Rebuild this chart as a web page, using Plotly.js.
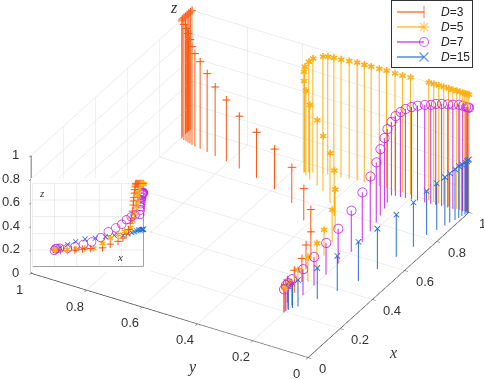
<!DOCTYPE html>
<html><head><meta charset="utf-8">
<script src="https://cdn.plot.ly/plotly-3.0.1.min.js"></script>
<style>html,body{margin:0;padding:0;background:#fff}#c{width:484px;height:379px}</style></head>
<body><div id="c"></div>
<script>
const seriesNames=['<i>D</i>=3','<i>D</i>=5','<i>D</i>=7','<i>D</i>=15'];
const seriesColors=['#ff5a14','#ffb014','#c828ee','#2a6fd2'];
const tickValues=[0,0.2,0.4,0.6,0.8,1];
const tickLabels=['0','0.2','0.4','0.6','0.8','1'];
const d3x=[.2,.205,.21,.22,.25,.31,.38,.45,.52,.63,.70,.77,.814,.845,.865,.883,.893,.90,.906,.91,.914,.917,.92,.923,.926,.93,.94,.95,.96,.97,.98,.99,1];
const d3y=[.2,.202,.205,.21,.22,.23,.243,.269,.292,.356,.422,.506,.594,.677,.751,.808,.854,.887,.916,.937,.95,.959,.968,.977,.986,.996,1,1,1,1,1,1,1];
const d3z=[.2,.2,.2,.2,.195,.195,.2,.209,.218,.226,.27,.304,.342,.387,.446,.521,.586,.667,.74,.789,.834,.884,.925,.958,.982,1,1,1,1,1,1,1,1];
const d5x=[.2,.205,.215,.24,.31,.39,.47,.55,.63,.70,.77,.83,.88,.90,.92,.935,.945,.95,.95,.955,.96,.97,.975,.978,.98,.985,.99,.99,.993,.995,.997,1,1,1,1,1,1,1,1,1,1,1,1,1,1,1];
const d5y=[.2,.202,.205,.21,.217,.227,.241,.262,.279,.309,.353,.403,.457,.49,.528,.551,.564,.567,.564,.552,.54,.51,.495,.475,.45,.424,.398,.372,.349,.321,.296,.267,.24,.211,.145,.127,.109,.091,.073,.058,.044,.033,.022,.015,.007,0];
const d5z=[.2,.2,.2,.205,.207,.211,.22,.22,.279,.344,.388,.424,.47,.556,.634,.72,.78,.85,.895,.94,.97,.995,1,1,1,1,1,1,.997,.997,.996,.99,.99,.995,1,1,1,1,1,1,1,1,1,1,1,1];
const d7x=[.194,.206,.219,.244,.313,.381,.456,.531,.613,.681,.748,.803,.845,.8875,.923,.966,.97,.972,.975,.977,.98,.982,.985,.987,.989,.991,.993,.996,.998,.999,1,1];
const d7y=[.2,.2,.2,.2,.2,.2,.2,.2,.2,.2,.21,.22,.23,.24,.25,.26,.248,.231,.215,.194,.174,.149,.129,.112,.092,.071,.054,.034,.021,.01,.004,0];
const d7z=[.197,.218,.22,.222,.222,.242,.269,.297,.35,.42,.466,.511,.564,.599,.624,.626,.678,.722,.756,.785,.807,.829,.84,.858,.87,.878,.885,.895,.893,.89,.89,.889];
const d15x=[.206,.215,.23,.247,.315,.388,.473,.565,.657,.736,.816,.86,.895,.917,.939,.956,.97,.983,.991,.996,1];
const d15y=[.205,.196,.19,.18,.15,.12,.093,.078,.063,.047,.046,.035,.026,.021,.015,.011,.008,.004,.002,.001,0];
const d15z=[.197,.2,.21,.226,.265,.30,.333,.342,.359,.376,.375,.395,.41,.42,.432,.44,.44,.445,.445,.45,.45];
const xs=[d3x,d5x,d7x,d15x],ys=[d3y,d5y,d7y,d15y],zs=[d3z,d5z,d7z,d15z];
const glyphs=['+','✱','○','×'];
const glyphSizes=[13,10,13,11];
const legendSymbols=['line-ns-open','asterisk-open','circle-open','x-thin-open'];
const legendRows=[11,26,41,56];
function stems(xa,ya,za){const X=[],Y=[],Z=[];xa.forEach((v,i)=>{X.push(v,v,null);Y.push(ya[i],ya[i],null);Z.push(0,za[i],null);});return {x:X,y:Y,z:Z};}
const traces=[];
xs.forEach((xa,k)=>{
  const s=stems(xa,ys[k],zs[k]);
  traces.push({type:'scatter3d',mode:'lines',x:s.x,y:s.y,z:s.z,line:{color:seriesColors[k],width:2},showlegend:false,hoverinfo:'skip',scene:'scene'});
  traces.push({type:'scatter3d',mode:'text',x:xa,y:ys[k],z:zs[k],text:xa.map(()=>glyphs[k]),textposition:'middle center',textfont:{color:seriesColors[k],size:glyphSizes[k],family:'DejaVu Sans'},showlegend:false,hoverinfo:'skip',scene:'scene'});
});
xs.forEach((xa,k)=>{
  traces.push({type:'scatter3d',mode:'text',x:xa,y:ys[k].map(()=>0),z:zs[k],text:xa.map(()=>glyphs[k]),textposition:'middle center',textfont:{color:seriesColors[k],size:glyphSizes[k]-1,family:'DejaVu Sans'},showlegend:false,hoverinfo:'skip',scene:'scene2'});
});
seriesNames.forEach((n,k)=>{
  traces.push({type:'scatter',mode:'lines+markers',x:[5,32],y:[legendRows[k],legendRows[k]],name:n,line:{color:seriesColors[k],width:1.2},marker:{symbol:legendSymbols[k],size:[0,9],color:seriesColors[k],line:{color:seriesColors[k],width:1.2}},xaxis:'x',yaxis:'y',showlegend:false,hoverinfo:'skip'});
});
const ax={range:[0,1],tickvals:tickValues,ticktext:tickLabels,showticklabels:false,showgrid:true,gridcolor:'#dcdcdc',gridwidth:1,showbackground:false,showspikes:false,zeroline:false,showline:true,linecolor:'#444',linewidth:1.5,ticks:'outside',ticklen:4,tickcolor:'#444',title:{text:''}};
const inax={range:[0,1],tickvals:tickValues,showticklabels:false,showgrid:true,gridcolor:'#dcdcdc',gridwidth:1,showbackground:false,showspikes:false,zeroline:false,showline:true,linecolor:'#444',title:{text:''}};
const tickFont={family:'Liberation Sans',size:13,color:'#333'};
const sceneNotes=[];
tickValues.forEach((v,i)=>{
  const w=tickLabels[i].length>1;
  sceneNotes.push({x:v,y:0,z:0,text:tickLabels[i],showarrow:false,xshift:w?20:14,yshift:-11,font:tickFont});
  sceneNotes.push({x:0,y:v,z:0,text:tickLabels[i],showarrow:false,xshift:-12,yshift:-16,font:tickFont});
  sceneNotes.push({x:0,y:1,z:v,text:tickLabels[i],showarrow:false,xshift:w?-20:-16,yshift:1,font:tickFont});
});
const legendNotes=seriesNames.map((n,k)=>({text:n,xref:'x',yref:'y',x:47,y:legendRows[k],xanchor:'left',yanchor:'middle',showarrow:false,font:{family:'Liberation Sans',size:12,color:'#222'}}));
function paperLabel(t,px,py,size){return {text:'<i>'+t+'</i>',xref:'paper',yref:'paper',x:px/484,y:1-py/379,xanchor:'center',yanchor:'middle',showarrow:false,font:{family:'Liberation Serif',size:size,color:'#333'}};}
const layout={width:484,height:379,margin:{l:0,r:0,t:0,b:0},paper_bgcolor:'#fff',plot_bgcolor:'rgba(0,0,0,0)',showlegend:false,
 xaxis:{domain:[392/484,472/484],range:[0,80],showticklabels:false,ticks:'',showgrid:false,zeroline:false,showline:true,mirror:true,linecolor:'#333',linewidth:1,fixedrange:true},
 yaxis:{domain:[1-67/379,1-1/379],range:[66,0],showticklabels:false,ticks:'',showgrid:false,zeroline:false,showline:true,mirror:true,linecolor:'#333',linewidth:1,fixedrange:true},
 scene:{domain:{x:[0,1],y:[0,1]},aspectmode:'manual',aspectratio:{x:1.69,y:1.69,z:.73},bgcolor:'rgba(0,0,0,0)',
  xaxis:ax,yaxis:ax,zaxis:ax,annotations:sceneNotes,
  camera:{projection:{type:'orthographic'},eye:{x:-.8525,y:-.446,z:.557},up:{x:0,y:0,z:1},center:{x:-.0345,y:.029,z:-.025}}},
 scene2:{domain:{x:[31/484,150/484],y:[1-272/379,1-178/379]},aspectmode:'manual',aspectratio:{x:2.36,y:.01,z:1.77},bgcolor:'#fff',
  xaxis:inax,yaxis:Object.assign({},inax,{showgrid:false,showline:false,ticks:''}),zaxis:inax,
  camera:{projection:{type:'orthographic'},eye:{x:.0325,y:-.37,z:0},up:{x:0,y:0,z:1},center:{x:.0525,y:0,z:0}}},
 annotations:legendNotes.concat([paperLabel('x',393,352,16),paperLabel('y',192,367,16),paperLabel('z',174,8,16),paperLabel('x',120,257,11),paperLabel('z',42,193,11)])};
Plotly.newPlot('c',traces,layout,{displayModeBar:false,responsive:false});
</script></body></html>
